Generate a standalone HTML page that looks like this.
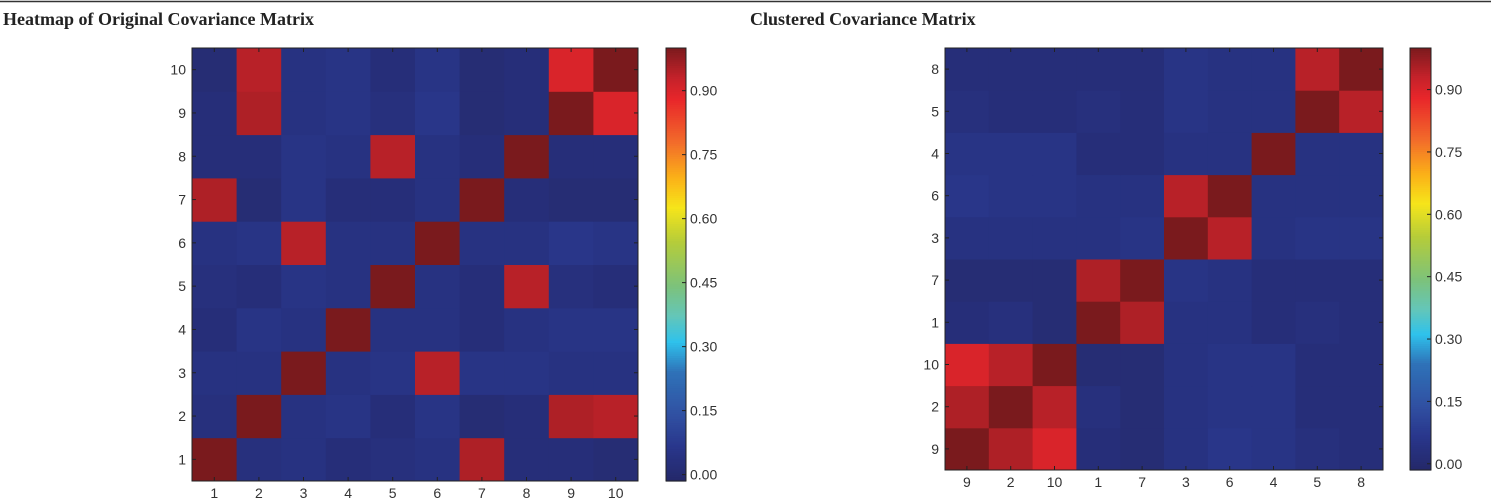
<!DOCTYPE html>
<html><head><meta charset="utf-8">
<style>
body{margin:0;background:#fff;width:1491px;height:504px;overflow:hidden;}
svg{display:block}
.t{font-family:"Liberation Serif",serif;font-weight:bold;font-size:18px;fill:#222}
.lb{font-family:"Liberation Sans",sans-serif;font-size:14px;fill:#333}
</style></head>
<body>
<svg id="s" width="1491" height="504">
<line x1="0" y1="1.5" x2="1491" y2="1.5" stroke="#333" stroke-width="1.5"/>
<text x="3" y="25" class="t">Heatmap of Original Covariance Matrix</text>
<text x="750" y="25" class="t">Clustered Covariance Matrix</text>
</svg>
<script>
const labels=[1,2,3,4,5,6,7,8,9,10];
const clusterOrder=[9,2,10,1,7,3,6,4,5,8];
const cbTicks=[0,0.15,0.30,0.45,0.60,0.75,0.90];
// covariance rows (label 1..10), columns 1..10
const cov=[
[1.00,0.03,0.04,0.02,0.03,0.04,0.95,0.02,0.02,0.01],
[0.03,1.00,0.04,0.05,0.02,0.05,0.01,0.02,0.95,0.94],
[0.04,0.04,1.00,0.04,0.05,0.94,0.05,0.05,0.04,0.04],
[0.02,0.05,0.04,1.00,0.04,0.04,0.02,0.04,0.05,0.05],
[0.03,0.02,0.05,0.04,1.00,0.04,0.02,0.94,0.03,0.02],
[0.04,0.05,0.94,0.04,0.04,1.00,0.04,0.04,0.06,0.05],
[0.95,0.01,0.05,0.02,0.02,0.04,1.00,0.02,0.01,0.01],
[0.02,0.02,0.05,0.04,0.94,0.04,0.02,1.00,0.02,0.02],
[0.02,0.95,0.04,0.05,0.03,0.06,0.01,0.02,1.00,0.90],
[0.01,0.94,0.04,0.05,0.02,0.05,0.01,0.02,0.90,1.00]];
const stops=[[0,'#24286a'],[0.08,'#29378c'],[0.15,'#3050a2'],[0.25,'#2f72b8'],[0.32,'#2fc2ec'],[0.38,'#64c6b8'],[0.45,'#7dc27a'],[0.55,'#b5cc3a'],[0.63,'#f6e51a'],[0.70,'#fbb018'],[0.78,'#f26c2a'],[0.88,'#e8262a'],[0.93,'#c4222a'],[1,'#7a1a1d']];
const NS='http://www.w3.org/2000/svg';
const svg=document.getElementById('s');
function hx(c){return [1,3,5].map(i=>parseInt(c.substr(i,2),16));}
function color(v){
  const t=Math.max(0,Math.min(1,(v+0.015)/1.015));
  for(let i=1;i<stops.length;i++){if(t<=stops[i][0]){const a=stops[i-1],b=stops[i];const f=(t-a[0])/(b[0]-a[0]);const A=hx(a[1]),B=hx(b[1]);return 'rgb('+A.map((x,k)=>Math.round(x+(B[k]-x)*f)).join(',')+')';}}
  return stops[stops.length-1][1];
}
function el(tag,attrs,parent){const e=document.createElementNS(NS,tag);for(const k in attrs)e.setAttribute(k,attrs[k]);(parent||svg).appendChild(e);return e;}
function heatmap(name,order,x0,y0,x1,y1,cbx,cbw){
  const g=el('g',{});
  
  
  const n=order.length,cw=(x1-x0)/n,ch=(y1-y0)/n;
  const xs=i=>x0+i*cw, ys=i=>y1-(i+1)*ch;
  order.forEach((r,i)=>order.forEach((c,j)=>{
    const v=cov[r-1][c-1];
    const rc=el('rect',{x:xs(j),y:ys(i),width:cw+0.5,height:ch+0.5,fill:color(v)},g);
    
    
  }));
  el('rect',{x:x0,y:y0,width:x1-x0,height:y1-y0,fill:'none',stroke:'#222','stroke-width':1},g);
  order.forEach((lab,i)=>{
    const cx=xs(i)+cw/2, cy=ys(i)+ch/2;
    el('line',{x1:cx,y1:y1,x2:cx,y2:y1-4,stroke:'#222'},g);
    el('line',{x1:cx,y1:y0,x2:cx,y2:y0+4,stroke:'#222'},g);
    el('line',{x1:x0,y1:cy,x2:x0+4,y2:cy,stroke:'#222'},g);
    el('line',{x1:x1,y1:cy,x2:x1-4,y2:cy,stroke:'#222'},g);
    const tx=el('text',{x:cx,y:y1+17,'text-anchor':'middle',class:'lb'},g);tx.textContent=lab;
    
    
    const ty=el('text',{x:x0-6,y:cy+5,'text-anchor':'end',class:'lb'},g);ty.textContent=lab;
    
    
  });
  const cb=el('g',{},g);
  
  
  const vmin=-0.015,vmax=1.0,cy=v=>y1-(v-vmin)/(vmax-vmin)*(y1-y0);
  for(let k=0;k<200;k++){const v=vmin+(vmax-vmin)*k/200;el('rect',{x:cbx,y:cy(v+(vmax-vmin)/200),width:cbw,height:(y1-y0)/200+0.6,fill:color(v)},cb);}
  el('rect',{x:cbx,y:y0,width:cbw,height:y1-y0,fill:'none',stroke:'#222'},cb);
  cbTicks.forEach(v=>{
    el('line',{x1:cbx+cbw-4,y1:cy(v),x2:cbx+cbw,y2:cy(v),stroke:'#222'},cb);
    const t=el('text',{x:cbx+cbw+4,y:cy(v)+5,class:'lb'},cb);t.textContent=v.toFixed(2);
    
    
  });
}
heatmap('original-heatmap',labels,192,48,638,481,666,20);
heatmap('clustered-heatmap',clusterOrder,945,48,1383,470,1410,21);
</script>
</body></html>
